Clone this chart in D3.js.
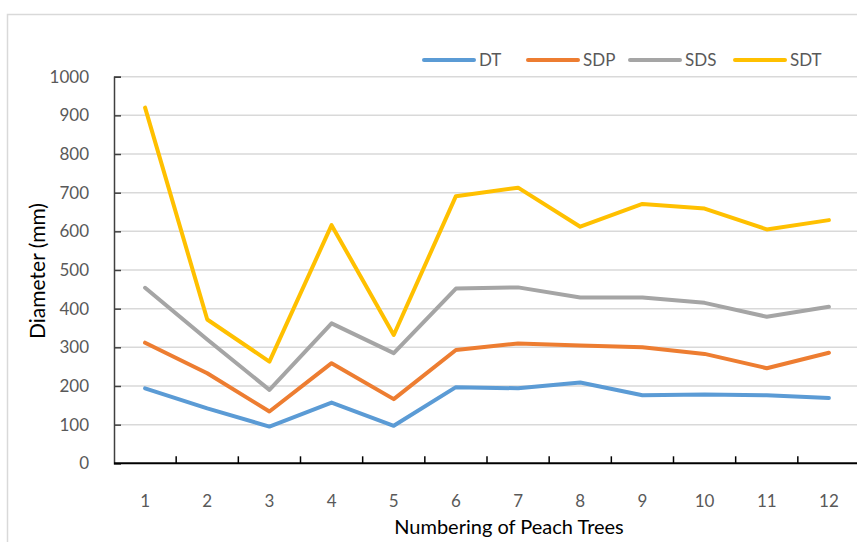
<!DOCTYPE html>
<html>
<head>
<meta charset="utf-8">
<script src="https://cdn.jsdelivr.net/npm/d3@7/dist/d3.min.js"></script>
<style>
  body { margin: 0; background: #fff; }
  text { font-family: Lato, "Open Sans", sans-serif; }
</style>
</head>
<body>
<div id="chart"></div>
<script>
// data
let trees = ['1', '2', '3', '4', '5', '6', '7', '8', '9', '10', '11', '12'];
let dt  = [194, 142, 95, 157, 97, 197, 194, 209, 176, 178, 176, 169];
let sdp = [312, 233, 134, 259, 166, 293, 310, 305, 300, 283, 246, 286];
let sds = [454, 320, 190, 362, 285, 452, 455, 429, 429, 415, 379, 405];
let sdt = [920, 372, 263, 616, 332, 691, 713, 612, 671, 659, 605, 629];
let seriesNames = ['DT', 'SDP', 'SDS', 'SDT'];
let yTicks = [0, 100, 200, 300, 400, 500, 600, 700, 800, 900, 1000];

let series = [
    { name: 'DT', values: dt, color: '#5b9bd5' },
    { name: 'SDP', values: sdp, color: '#ed7d31' },
    { name: 'SDS', values: sds, color: '#a5a5a5' },
    { name: 'SDT', values: sdt, color: '#ffc000' }
];

let width = 857, height = 542;
let svg = d3.select('#chart').append('svg')
    .attr('width', width)
    .attr('height', height);

// chart frame
svg.append('rect')
    .attr('x', 7.5).attr('y', 14.5)
    .attr('width', 870).attr('height', 540)
    .attr('fill', 'none')
    .attr('stroke', '#d9d9d9')
    .attr('stroke-width', 1.5);

let plotL = 114, plotR = 860, plotT = 76.7, plotB = 463.3;

let x = d3.scaleBand()
    .domain(trees)
    .range([plotL, plotR]);

let y = d3.scaleLinear()
    .domain([0, 1000])
    .range([plotB, plotT]);

// gridlines
svg.append('g')
    .selectAll('line')
    .data(yTicks.filter(d => d > 0))
    .enter()
    .append('line')
    .attr('x1', plotL).attr('x2', width)
    .attr('y1', d => y(d)).attr('y2', d => y(d))
    .attr('stroke', '#d9d9d9')
    .attr('stroke-width', 1.5);

// y axis
let yAxis = svg.append('g')
    .attr('transform', `translate(${plotL},0)`)
    .call(d3.axisRight(y).tickValues(yTicks).tickSize(7).tickFormat(''));
yAxis.select('.domain').attr('stroke', '#404040').attr('stroke-width', 1.5);
yAxis.selectAll('.tick line').attr('stroke', '#404040').attr('stroke-width', 1.5);

svg.append('g')
    .selectAll('text')
    .data(yTicks)
    .enter()
    .append('text')
    .text(d => d)
    .attr('x', 89)
    .attr('y', d => y(d))
    .attr('dy', '0.35em')
    .attr('text-anchor', 'end')
    .attr('fill', '#595959')
    .style('font-size', '17px');

// x axis, ticks between categories pointing up
let xTickPos = trees.map(t => x(t)).concat([plotR]);
svg.append('line')
    .attr('x1', plotL).attr('x2', width)
    .attr('y1', plotB).attr('y2', plotB)
    .attr('stroke', '#000')
    .attr('stroke-width', 2);
svg.append('g')
    .selectAll('line')
    .data(xTickPos.slice(1))
    .enter()
    .append('line')
    .attr('x1', d => d).attr('x2', d => d)
    .attr('y1', plotB).attr('y2', plotB - 7)
    .attr('stroke', '#000')
    .attr('stroke-width', 1.5);

svg.append('g')
    .selectAll('text')
    .data(trees)
    .enter()
    .append('text')
    .text(d => d)
    .attr('x', d => x(d) + x.bandwidth() / 2)
    .attr('y', 507)
    .attr('text-anchor', 'middle')
    .attr('fill', '#595959')
    .style('font-size', '17px');

// axis titles
svg.append('text')
    .text('Numbering of Peach Trees')
    .attr('x', 509)
    .attr('y', 534)
    .attr('text-anchor', 'middle')
    .attr('fill', '#000')
    .style('font-size', '20px');

svg.append('text')
    .text('Diameter (mm)')
    .attr('transform', 'translate(45,271) rotate(-90)')
    .attr('text-anchor', 'middle')
    .attr('fill', '#000')
    .style('font-size', '21px');

// lines
let line = d3.line()
    .x((d, i) => x(trees[i]) + x.bandwidth() / 2)
    .y(d => y(d));

svg.append('g')
    .selectAll('path')
    .data(series)
    .enter()
    .append('path')
    .attr('d', d => line(d.values))
    .attr('fill', 'none')
    .attr('stroke', d => d.color)
    .attr('stroke-width', 4)
    .attr('stroke-linejoin', 'round')
    .attr('stroke-linecap', 'round');

// legend
let legX = [424, 528, 630, 735];
let leg = svg.append('g');
series.forEach((s, i) => {
    leg.append('line')
        .attr('x1', legX[i]).attr('x2', legX[i] + 50)
        .attr('y1', 60).attr('y2', 60)
        .attr('stroke', s.color)
        .attr('stroke-width', 4)
        .attr('stroke-linecap', 'round');
    leg.append('text')
        .text(seriesNames[i])
        .attr('x', legX[i] + 55)
        .attr('y', 60)
        .attr('dy', '0.35em')
        .attr('fill', '#595959')
        .style('font-size', '17px');
});
</script>
</body>
</html>
